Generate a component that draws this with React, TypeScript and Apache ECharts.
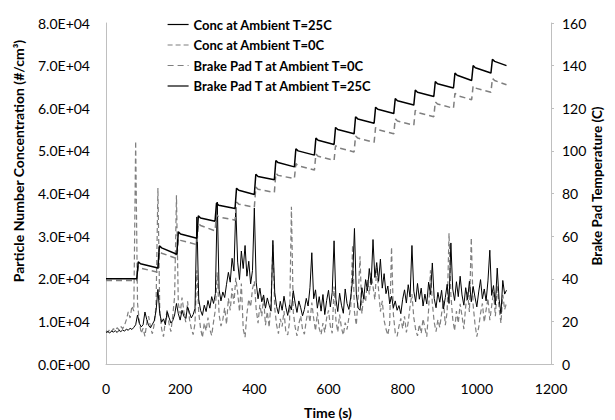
import React, { useEffect, useRef } from "react";
import * as echarts from "echarts";

// Sampling step of the concentration records (s)
const TIME_STEP = 5;

// Particle number concentration (#/cm3), ambient 25C, t = 0..1080 s every 5 s
const concAmb25 = [
  7400, 7600, 7300, 7700, 7500, 7800, 7400, 7900, 7600, 8000,
  7700, 8200, 7900, 8400, 8100, 8600, 9200, 11500, 9500, 8700,
  9200, 12200, 10400, 9000, 8500, 9300, 10100, 12500, 17500, 11800,
  9800, 10600, 9200, 12300, 10900, 9600, 10200, 11500, 14200, 11800,
  10300, 12600, 11200, 10700, 13400, 12100, 10800, 11600, 13000, 34500,
  15200, 12600, 11400, 13800, 12300, 14900, 13100, 15800, 14200, 16500,
  38000, 17400, 14800, 16900, 15600, 18700, 21500, 19200, 24800, 21800,
  36600, 23900, 19800, 26500, 22400, 27800, 20600, 24100, 18800, 21900,
  36600, 19200, 15300, 17800, 14600, 16200, 13100, 15500, 13800, 12400,
  29000, 16800, 13500, 11800, 14700, 12600, 15900, 13300, 11400, 13900,
  12700, 17200, 14300, 12100, 14800, 13200, 11300, 12800, 15400, 13600,
  17900, 26100, 15300, 17400, 13100, 15800, 12400, 16300, 11600, 14900,
  17300, 13400, 16800, 28900, 15200, 12300, 16600, 13800, 11900, 17600,
  14200, 12800, 15700, 19800, 31800, 16400, 13100, 12600, 17900, 15300,
  19800, 17200, 22400, 18600, 29200, 20300, 23800, 19400, 24600, 17800,
  21200, 16500, 18300, 14100, 15900, 13200, 14800, 12600, 13700, 11800,
  15200, 17400, 14300, 18600, 15700, 27800, 17100, 14600, 18900, 15200,
  17800, 13600, 16400, 14100, 19200, 16300, 23700, 15400, 13200, 16800,
  14500, 17300, 12900, 15600, 18700, 14200, 28400, 17600, 14900, 19300,
  15800, 20600, 16200, 13800, 17900, 15100, 19400, 14600, 18200, 15700,
  13400, 16900, 19800, 15300, 17600, 14800, 19500, 26700, 16100, 18400,
  13900, 22500, 15200, 11800, 19600, 16400, 17300,
];

// Particle number concentration (#/cm3), ambient 0C, t = 0..1080 s every 5 s
const concAmb0 = [
  7800, 7500, 8100, 7600, 8300, 7900, 8500, 8000, 8800, 8300,
  9100, 10400, 12200, 10800, 13600, 12400, 52300, 14300, 9800, 7200,
  8400, 6500, 9700, 11200, 8600, 7100, 9300, 13800, 41300, 12600,
  8200, 6400, 10100, 12700, 9400, 7600, 11300, 15800, 39600, 14200,
  11800, 15600, 12400, 9800, 14700, 10600, 8300, 6900, 9500, 22000,
  12100, 8400, 6200, 9600, 7800, 10900, 8100, 6700, 9900, 12800,
  21500, 11600, 8900, 10400, 13200, 9300, 15400, 12600, 17800, 14100,
  20200, 16800, 12300, 18900, 8200, 6300, 11800, 15200, 13400, 17600,
  19400, 12800, 9600, 13900, 11200, 15800, 9100, 12300, 8600, 14700,
  28000, 13100, 9200, 7100, 10600, 8800, 12400, 7400, 6800, 9900,
  36900, 12200, 8700, 6600, 9400, 11300, 8100, 7000, 10200, 12600,
  9800, 14400, 10700, 7800, 12100, 8300, 6900, 9600, 7400, 10800,
  12600, 8900, 7200, 18200, 10300, 7500, 11600, 8400, 6800, 9700,
  8100, 10900, 13400, 27900, 12200, 9100, 15600, 25300, 11800, 16200,
  14600, 19800, 16300, 21400, 18200, 15100, 22600, 17400, 12300, 14800,
  10200, 8200, 6800, 9400, 27400, 11600, 7300, 6500, 8900, 10700,
  8300, 11200, 7400, 9800, 13600, 16400, 10900, 8100, 6600, 9300,
  7200, 10600, 8400, 6400, 12800, 22000, 14300, 9800, 7600, 10400,
  8600, 11800, 14900, 9100, 12300, 30700, 16200, 10600, 7800, 12400,
  9600, 14100, 11300, 8200, 13600, 16800, 12200, 29600, 13900, 9400,
  6400, 8600, 11900, 14200, 9800, 12700, 15400, 10300, 13600, 16900,
  11200, 18400, 13100, 9600, 16200, 12800, 14300,
];

// Brake pad temperature (C) at ambient 25C, [time s, temperature C]
const padTAmb25 = [
  [0, 40], [83, 40], [87, 48], [93, 47], [140, 45],
  [144, 55.5], [150, 54.5], [191, 51.5],
  [195, 62], [201, 61], [245, 59],
  [249, 69.5], [255, 68.5], [294, 67],
  [298, 75.5], [304, 74.5], [348, 73],
  [352, 82.5], [358, 81.5], [400, 79.5],
  [404, 89], [410, 88], [454, 86.5],
  [458, 95.5], [464, 94.5], [508, 92.5],
  [512, 101], [518, 100], [562, 98],
  [566, 106], [572, 105], [615, 103],
  [619, 111], [625, 110], [669, 108],
  [673, 116], [679, 115], [723, 113],
  [727, 120.5], [733, 119.5], [776, 117.5],
  [780, 124.5], [786, 123.5], [830, 121.5],
  [834, 128.5], [840, 127.5], [884, 125.5],
  [888, 132.5], [894, 131.5], [937, 129.5],
  [941, 136.5], [947, 135.5], [986, 133],
  [990, 140], [996, 139], [1038, 136.5],
  [1042, 143], [1048, 142], [1080, 140],
];

// Brake pad temperature (C) at ambient 0C, [time s, temperature C]
const padTAmb0 = [
  [0, 39.2], [83, 39.2], [87, 46], [93, 45], [140, 43],
  [144, 53], [150, 52], [191, 49.5],
  [195, 59], [201, 58], [245, 56],
  [249, 66], [255, 65], [294, 62.5],
  [298, 70], [304, 69], [348, 67.5],
  [352, 76], [358, 75], [400, 73.5],
  [404, 83], [410, 82], [454, 80.5],
  [458, 89.5], [464, 88.5], [508, 87],
  [512, 94], [518, 93], [562, 91],
  [566, 98.5], [572, 97.5], [615, 95.5],
  [619, 102.5], [625, 101.5], [669, 99.5],
  [673, 107], [679, 106], [723, 104],
  [727, 111], [733, 110], [776, 108],
  [780, 115], [786, 114], [830, 112],
  [834, 119], [840, 118], [884, 116],
  [888, 123], [894, 122], [937, 120],
  [941, 127], [947, 126], [986, 124],
  [990, 130.5], [996, 129.5], [1038, 127.5],
  [1042, 134], [1048, 133], [1080, 131],
];

const seriesNames = [
  "Conc at Ambient T=25C",
  "Conc at Ambient T=0C",
  "Brake Pad T at Ambient T=0C",
  "Brake Pad T at Ambient T=25C",
];

const FONT = "Lato, 'Open Sans', sans-serif";
const AXIS_GRAY = "#bfbfbf";

function sci(v: number): string {
  if (v === 0) return "0.0E+00";
  const e = Math.floor(Math.log10(Math.abs(v)) + 1e-9);
  const m = v / Math.pow(10, e);
  return m.toFixed(1) + "E+" + String(e).padStart(2, "0");
}

export default function App() {
  const ref = useRef<HTMLDivElement>(null);

  useEffect(() => {
    document.body.style.margin = "0";
    if (!ref.current) return;
    const chart = echarts.init(ref.current, undefined, { renderer: "svg" });

    const option: any = {
      animation: false,
      backgroundColor: "#ffffff",
      grid: { left: 106, right: 64, top: 23, bottom: 56 },
      legend: {
        data: seriesNames,
        orient: "vertical",
        left: 162,
        top: 13,
        itemWidth: 21,
        itemHeight: 14,
        itemGap: 7.5,
        itemStyle: { opacity: 0 },
        lineStyle: { width: 1.2 },
        textStyle: { fontFamily: FONT, fontWeight: "bold", fontSize: 13, color: "#000" },
      },
      xAxis: {
        type: "value",
        min: 0,
        max: 1200,
        interval: 200,
        axisLine: { show: true, lineStyle: { color: AXIS_GRAY, width: 1 } },
        axisTick: { show: false },
        splitLine: { show: false },
        axisLabel: {
          fontFamily: FONT,
          fontSize: 14,
          color: "#000",
          margin: 17,
          formatter: (v: number) => String(v),
        },
      },
      yAxis: [
        {
          type: "value",
          min: 0,
          max: 80000,
          interval: 10000,
          position: "left",
          axisLine: { show: true, lineStyle: { color: AXIS_GRAY, width: 1 } },
          axisTick: { show: false },
          splitLine: { show: false },
          axisLabel: { fontFamily: FONT, fontSize: 14, color: "#000", margin: 16, formatter: sci },
        },
        {
          type: "value",
          min: 0,
          max: 160,
          interval: 20,
          position: "right",
          axisLine: { show: true, lineStyle: { color: AXIS_GRAY, width: 1 } },
          axisTick: { show: true, length: 3, lineStyle: { color: AXIS_GRAY } },
          splitLine: { show: false },
          axisLabel: {
            fontFamily: FONT,
            fontSize: 14,
            color: "#000",
            margin: 11,
            formatter: (v: number) => String(v),
          },
        },
      ],
      series: [
        {
          name: seriesNames[0],
          type: "line",
          yAxisIndex: 0,
          symbol: "none",
          data: concAmb25.map((v, i) => [i * TIME_STEP, v]),
          lineStyle: { color: "#000000", width: 1 },
          itemStyle: { color: "#000000" },
          z: 3,
        },
        {
          name: seriesNames[1],
          type: "line",
          yAxisIndex: 0,
          symbol: "none",
          data: concAmb0.map((v, i) => [i * TIME_STEP, v]),
          lineStyle: { color: "#7f7f7f", width: 1.2, type: [5, 3] },
          itemStyle: { color: "#7f7f7f" },
          z: 2,
        },
        {
          name: seriesNames[2],
          type: "line",
          yAxisIndex: 1,
          symbol: "none",
          data: padTAmb0,
          lineStyle: { color: "#7f7f7f", width: 1.5, type: [6, 4] },
          itemStyle: { color: "#7f7f7f" },
          z: 4,
        },
        {
          name: seriesNames[3],
          type: "line",
          yAxisIndex: 1,
          symbol: "none",
          data: padTAmb25,
          lineStyle: { color: "#000000", width: 1.5 },
          itemStyle: { color: "#000000" },
          z: 5,
        },
      ],
      graphic: [
        {
          type: "text",
          x: 18,
          y: 161,
          rotation: Math.PI / 2,
          style: {
            text: "Particle Number Concentration (#/cm³)",
            fontFamily: FONT,
            fontWeight: "bold",
            fontSize: 14,
            fill: "#000",
            align: "center",
            verticalAlign: "middle",
          },
        },
        {
          type: "text",
          x: 597,
          y: 186,
          rotation: Math.PI / 2,
          style: {
            text: "Brake Pad Temperature (C)",
            fontFamily: FONT,
            fontWeight: "bold",
            fontSize: 13.5,
            fill: "#000",
            align: "center",
            verticalAlign: "middle",
          },
        },
        {
          type: "text",
          x: 328,
          y: 412,
          style: {
            text: "Time (s)",
            fontFamily: FONT,
            fontWeight: "bold",
            fontSize: 14,
            fill: "#000",
            align: "center",
            verticalAlign: "middle",
          },
        },
      ],
    };

    chart.setOption(option);
    return () => chart.dispose();
  }, []);

  return <div ref={ref} style={{ width: 615, height: 420 }} />;
}
